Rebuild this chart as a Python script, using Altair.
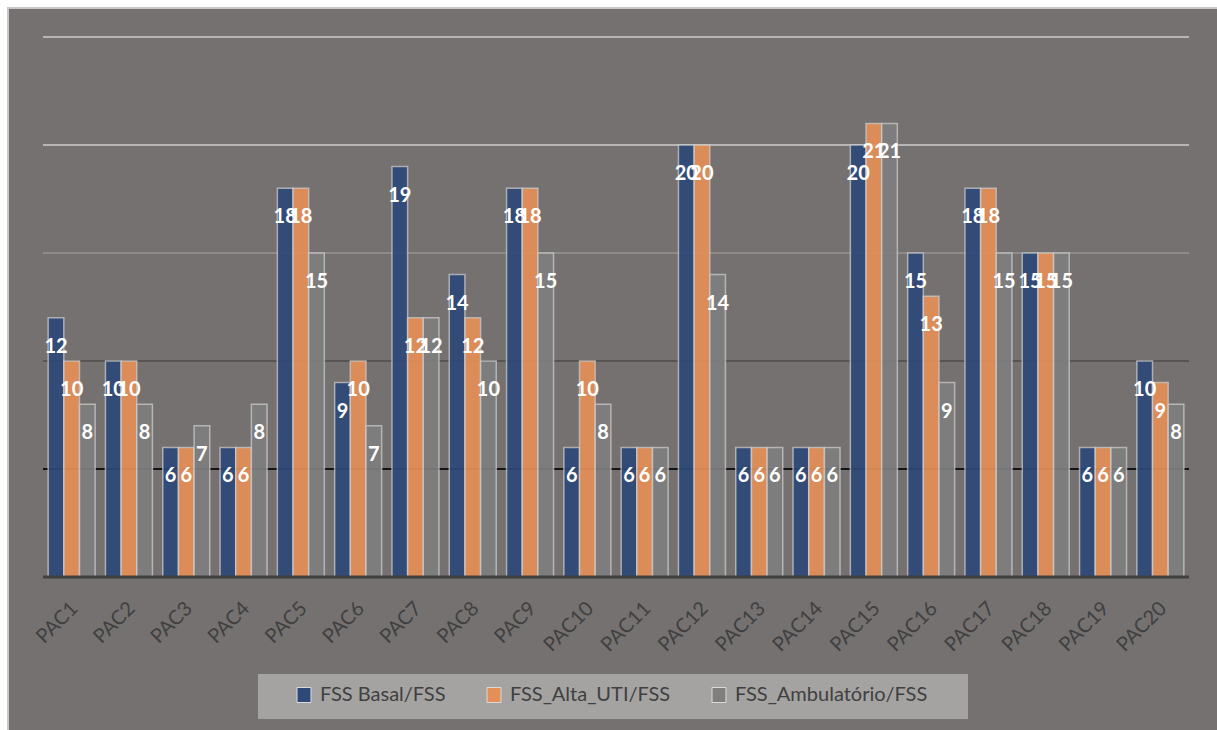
import altair as alt
import pandas as pd

# Patients and FSS scores for each assessment moment
patients = ["PAC1", "PAC2", "PAC3", "PAC4", "PAC5", "PAC6", "PAC7", "PAC8", "PAC9", "PAC10",
            "PAC11", "PAC12", "PAC13", "PAC14", "PAC15", "PAC16", "PAC17", "PAC18", "PAC19", "PAC20"]
series_names = ["FSS Basal/FSS", "FSS_Alta_UTI/FSS", "FSS_Ambulatório/FSS"]
fss_basal = [12, 10, 6, 6, 18, 9, 19, 14, 18, 6, 6, 20, 6, 6, 20, 15, 18, 15, 6, 10]
fss_alta_uti = [10, 10, 6, 6, 18, 10, 12, 12, 18, 10, 6, 20, 6, 6, 21, 13, 18, 15, 6, 9]
fss_ambulatorio = [8, 8, 7, 8, 15, 7, 12, 10, 15, 8, 6, 14, 6, 6, 21, 9, 15, 15, 6, 8]
series_colors = ["#2E4878", "#E48F58", "#7F7F7F"]

# Horizontal reference lines and their colours
grid_values = [5, 10, 15, 20, 25]
grid_colors = ["#141414", "#575453", "#8E8B89", "#B8B6B4", "#B8B6B4"]

rows = []
for name, vals in zip(series_names, [fss_basal, fss_alta_uti, fss_ambulatorio]):
    for p, v in zip(patients, vals):
        rows.append({"paciente": p, "serie": name, "valor": v})
df = pd.DataFrame(rows)
grid_df = pd.DataFrame({"valor": grid_values, "cor": grid_colors})

W, H = 1146, 540
FONT = "Lato"

x_enc = alt.X(
    "paciente:N",
    sort=patients,
    scale=alt.Scale(paddingInner=0.18, paddingOuter=0.09),
    axis=alt.Axis(
        title=None, labelAngle=-45, labelAlign="right", labelBaseline="middle",
        labelFontSize=20, labelColor="#404040", labelFont=FONT,
        ticks=False, domain=False, grid=False, labelPadding=28, labelOffset=3,
        zindex=1,
    ),
)
y_scale = alt.Scale(domain=[0, 25], nice=False, zero=True)
xoff = alt.XOffset("serie:N", sort=series_names, scale=alt.Scale(paddingInner=0, paddingOuter=0))

# Chart panel behind everything
panel = alt.Chart(alt.Data(values=[{}])).mark_rect(
    fill="#757170", stroke="#C8C8C8", strokeWidth=2
).encode(
    x=alt.value(-35), x2=alt.value(W + 40),
    y=alt.value(-29), y2=alt.value(H + 170),
)

# Light box holding the legend
legend_box = alt.Chart(alt.Data(values=[{}])).mark_rect(fill="#A5A3A1").encode(
    x=alt.value(215), x2=alt.value(925),
    y=alt.value(637), y2=alt.value(682),
)

grid = alt.Chart(grid_df).mark_rule(strokeWidth=2).encode(
    y=alt.Y("valor:Q", scale=y_scale, axis=None),
    stroke=alt.Stroke("cor:N", scale=None, legend=None),
)

bars = alt.Chart(df).mark_bar(
    opacity=0.92, stroke="#D2D2D2", strokeWidth=1.5, strokeOpacity=0.75
).encode(
    x=x_enc,
    xOffset=xoff,
    y=alt.Y("valor:Q", scale=y_scale, axis=None),
    color=alt.Color(
        "serie:N",
        sort=series_names,
        scale=alt.Scale(domain=series_names, range=series_colors),
        legend=alt.Legend(
            title=None, orient="none", legendX=251, legendY=648,
            direction="horizontal", padding=0,
            labelFontSize=20, labelFont=FONT, labelColor="#404040",
            symbolType="M-0.93,-1H0.93V1H-0.93Z", symbolSize=225,
            symbolStrokeColor="#DADADA", symbolStrokeWidth=1, symbolOpacity=1,
            columnPadding=38, labelOffset=6, zindex=1, labelLimit=300,
        ),
    ),
)

labels = alt.Chart(df).mark_text(
    dy=29, baseline="middle", align="center", fontWeight="bold",
    fontSize=20, font=FONT, color="white",
).encode(
    x=x_enc,
    xOffset=xoff,
    y=alt.Y("valor:Q", scale=y_scale, axis=None),
    text=alt.Text("valor:Q"),
)

baseline = alt.Chart(alt.Data(values=[{"valor": 0}])).mark_rule(
    color="#404040", strokeWidth=3
).encode(y=alt.Y("valor:Q", scale=y_scale, axis=None))

chart = alt.layer(panel, legend_box, grid, bars, labels, baseline).properties(
    width=W, height=H,
    autosize=alt.AutoSizeParams(type="none"),
    padding={"left": 43, "top": 37, "right": 28, "bottom": 153},
    background="white",
).configure_view(stroke=None)

chart.save("out.html", embed_options={"renderer": "svg", "actions": False})
